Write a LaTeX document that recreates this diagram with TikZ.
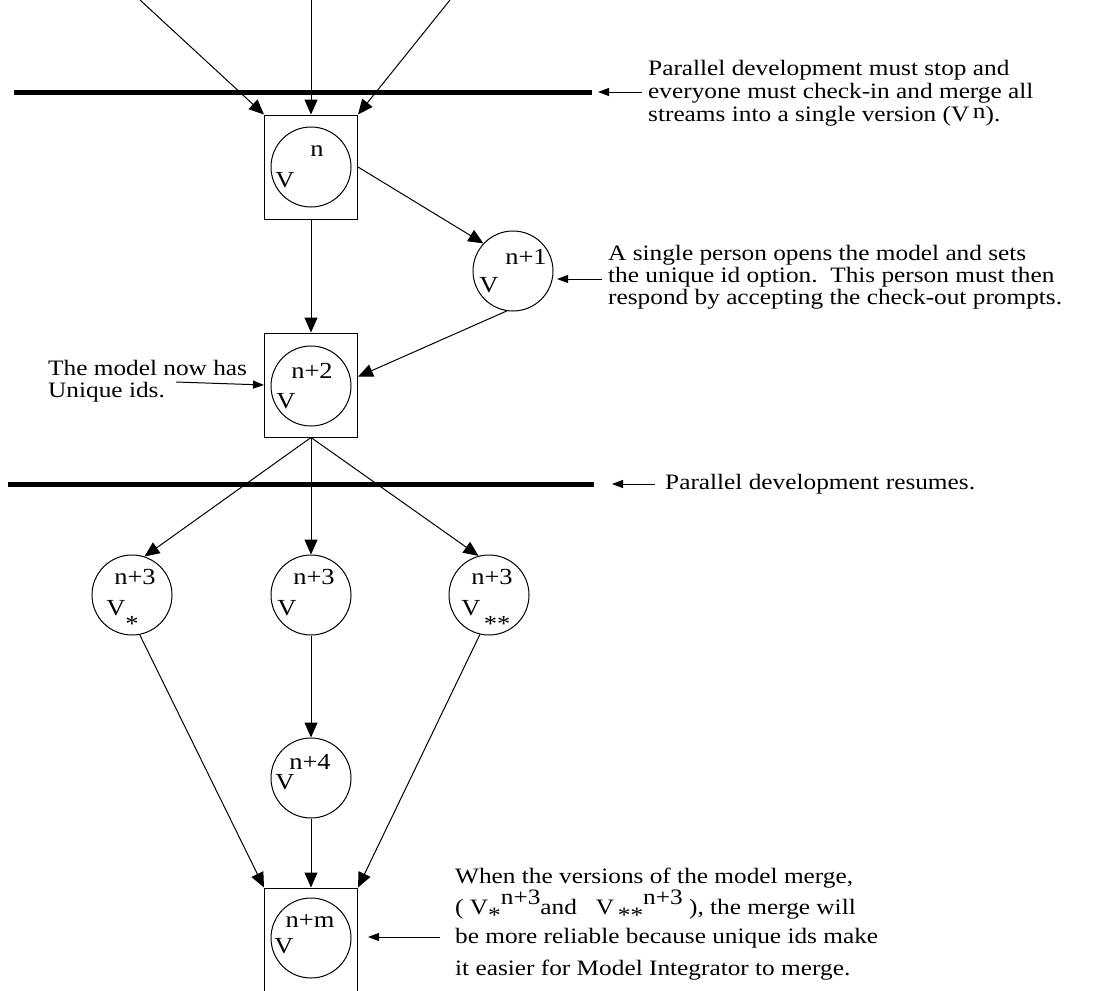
\documentclass[tikz,border=0pt]{standalone}
\usepackage{fontspec}
\setmainfont{Liberation Serif}
\newfontfamily\notefont[FakeStretch=1.15]{Liberation Serif}
\usetikzlibrary{calc,arrows.meta,positioning}
\newcommand\vsub[1]{\raisebox{-8pt}{#1}}
\newcommand\vsupr[1]{\raisebox{10pt}{#1}}

\begin{document}
\begin{tikzpicture}[x=1pt,y=-1pt,
  font=\notefont\fontsize{22}{22}\selectfont]

\tikzset{ver/.style={draw,line width=1pt,rectangle,minimum width=93pt,minimum height=104pt,inner sep=0pt},
vcirc/.style={draw,line width=1pt,circle,minimum size=80pt,inner sep=0pt},
link/.style={line width=1pt,-{Triangle[length=15pt,width=13pt]}},
notelink/.style={line width=1pt,-{Triangle[length=11pt,width=8pt]}},
bar/.style={line width=5pt},
sym/.style={font=\notefont\fontsize{23}{23}\selectfont,inner sep=0pt},
note/.style={align=left,inner sep=0pt}}

\useasboundingbox (0,0) rectangle (1110,990);
\clip (0,0) rectangle (1110,990);

% Nodes
\coordinate (top1) at (140,0);
\coordinate (top2) at (311,0);
\coordinate (top3) at (450,0);
\node[ver] (box1) at (311,167){};
\node[vcirc] (vn) at (311,167){};
\node[vcirc] (vn1) at (513,271){};
\node[ver] (box2) at (311,385){};
\node[vcirc] (vn2) at (311,386){};
\foreach \cx/\nm in {132/a,311/b,489/c} \node[vcirc] (v3\nm) at (\cx,595){};
\node[vcirc] (vn4) at (311,778){};
\node[ver] (box3) at (311,940){};
\node[vcirc] (vnm) at (311,938){};

% Circle labels
\node[sym] (vnV) at (285,180) {V};
\node[sym] (vnS) at (317,151) {n};
\node[sym] (vn1V) at (489,285) {V};
\node[sym] (vn1S) at (526,257) {n+1};
\node[sym] (vn2S) at (312,371) {n+2};
\node[sym] (vn2V) at (286,401) {V};
\foreach \cx/\nm in {132/a,311/b,489/c} {
  \node[sym] (v3\nm S) at (\cx+3,577) {n+3};
}
\node[sym] (v3aV) at (116,608) {V};
\node[sym] (v3bV) at (287,608) {V};
\node[sym] (v3cV) at (471,608) {V};
\node[sym] (v3aX) at (132,624) {*};
\node[sym] (v3cX) at (497,624) {**};
\node[sym] (vn4S) at (310,762) {n+4};
\node[sym] (vn4V) at (285,782) {V};
\node[sym] (vnmS) at (310,921) {n+m};
\node[sym] (vnmV) at (284,946) {V};

% Bars
\coordinate (bar1w) at (14,92);
\coordinate (bar1e) at (592,92);
\coordinate (bar2w) at (8,484);
\coordinate (bar2e) at (594,484);
\draw[bar] (bar1w) -- (bar1e);
\draw[bar] (bar2w) -- (bar2e);

% Links
\draw[link] (top1) -- (box1.north west);
\draw[link] (top2) -- (box1.north);
\draw[link] (top3) -- (box1.north east);
\draw[link] (box1.east) -- (vn1.137);
\draw[link] (box1.south) -- (box2.north);
\draw[link] (vn1.261) -- (box2.10);
\draw[link] (box2.south) -- (v3a.72);
\draw[link] (box2.south) -- (v3b.north);
\draw[link] (box2.south) -- (v3c.105);
\draw[link] (v3b.south) -- (vn4.north);
\draw[link] (v3a.281) -- (box3.north west);
\draw[link] (vn4.south) -- (box3.north);
\draw[link] (v3c.257) -- (box3.north east);

% Notes
\node[note,anchor=west,font=\notefont\fontsize{22}{23}\selectfont] (note1) at (648,93) {Parallel development must stop and\\everyone must check-in and merge all\\streams into a single version (V\,\raisebox{3pt}{n}).};
\coordinate (tip1) at (598,92);
\draw[notelink] ($(note1.west)+(-6,-1)$) -- (tip1);

\node[note,anchor=west] (note2) at (608,277) {A single person opens the model and sets\\the unique id option.\ \ This person must then\\respond by accepting the check-out prompts.};
\coordinate (tip2) at (557,279);
\draw[notelink] ($(note2.west)+(-6,2)$) -- (tip2);

\node[note,anchor=west] (note3) at (48,381) {The model now has\\Unique ids.};
\coordinate (tail3) at (176,382);
\draw[notelink] (tail3) -- (box2.west);

\node[note,anchor=west] (note4) at (665,484) {Parallel development resumes.};
\coordinate (tip4) at (612,484);
\draw[notelink] ($(note4.west)+(-10,0)$) -- (tip4);

\node[note,anchor=west] (mline1) at (455,878) {When the versions of the model merge,};
\node[note,anchor=west] (mline2) at (455,906) {( V\vsub{*}\vsupr{n+3}and\ \ \ V\,\vsub{**}\vsupr{n+3}\ ), the merge will};
\node[note,anchor=west] (mline3) at (455,938) {be more reliable because unique ids make};
\node[note,anchor=west] (mline4) at (455,970) {it easier for Model Integrator to merge.};
\coordinate (tail5) at (440,937);
\coordinate (tip5) at (368,937);
\draw[notelink] (tail5) -- (tip5);

\end{tikzpicture}
\end{document}
